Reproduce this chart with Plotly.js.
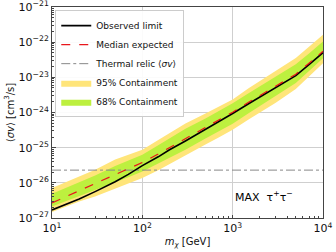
<!DOCTYPE html>
<html><head><meta charset="utf-8">
<script src="https://cdn.plot.ly/plotly-3.0.1.min.js"></script>
<style>html,body{margin:0;padding:0;background:#fff}#c{width:336px;height:252px}</style>
</head><body><div id="c"></div>
<script>
// mass grid (GeV)
const mass = [10, 20, 30, 50, 70, 100, 150, 200, 300, 500, 700, 1000, 1500, 2000, 3000, 5000, 7000, 10000];
// log10 <sigma v> values (cm^3/s)
const observedLog = [-26.77, -26.46, -26.25, -25.97, -25.76, -25.51, -25.26, -25.06, -24.81, -24.48, -24.27, -24.03, -23.75, -23.56, -23.30, -22.95, -22.64, -22.30];
const medianLog   = [-26.57, -26.22, -26.01, -25.76, -25.60, -25.42, -25.18, -25.00, -24.76, -24.43, -24.22, -23.99, -23.71, -23.52, -23.26, -22.91, -22.60, -22.26];
const band95High  = [-26.15, -25.82, -25.63, -25.34, -25.20, -25.06, -24.78, -24.58, -24.31, -24.03, -23.84, -23.63, -23.31, -23.10, -22.81, -22.45, -22.13, -21.79];
const band68High  = [-26.31, -25.98, -25.79, -25.52, -25.36, -25.20, -24.93, -24.73, -24.46, -24.17, -23.97, -23.74, -23.45, -23.25, -22.98, -22.63, -22.32, -21.98];
const band68Low   = [-26.67, -26.38, -26.21, -25.98, -25.84, -25.68, -25.46, -25.30, -25.06, -24.74, -24.54, -24.32, -24.02, -23.82, -23.54, -23.16, -22.82, -22.46];
const band95Low   = [-26.83, -26.53, -26.39, -26.16, -26.02, -25.86, -25.64, -25.46, -25.22, -24.91, -24.71, -24.49, -24.20, -24.00, -23.72, -23.33, -22.98, -22.60];
const thermalRelic = 2.3e-26;
const xRange = [10, 10000];
const xDecades = [1, 2, 3, 4];
const xTickText = ['10<sup>1</sup>', '10<sup>2</sup>', '10<sup>3</sup>', '10<sup>4</sup>'];
const yDecades = [-27, -26, -25, -24, -23, -22, -21];
const yTickText = ['10<sup>−27</sup>', '10<sup>−26</sup>', '10<sup>−25</sup>', '10<sup>−24</sup>', '10<sup>−23</sup>', '10<sup>−22</sup>', '10<sup>−21</sup>'];
const minorDigits = [2, 3, 4, 5, 6, 7, 8, 9];

const p = a => a.map(v => Math.pow(10, v));
const minorVals = decs => {
  const out = [];
  decs.slice(0, -1).forEach(d => minorDigits.forEach(k => out.push(k * Math.pow(10, d))));
  return out;
};

const traces = [
  {x: mass, y: p(band95Low), mode: 'lines', line: {width: 0, color: '#ffe57a'}, showlegend: false, hoverinfo: 'skip'},
  {x: mass, y: p(band95High), mode: 'lines', line: {width: 0, color: '#ffe57a'}, fill: 'tonexty', fillcolor: '#ffe57a', name: '95% Containment', legendrank: 4},
  {x: mass, y: p(band68Low), mode: 'lines', line: {width: 0, color: '#bdf03f'}, showlegend: false, hoverinfo: 'skip'},
  {x: mass, y: p(band68High), mode: 'lines', line: {width: 0, color: '#bdf03f'}, fill: 'tonexty', fillcolor: '#bdf03f', name: '68% Containment', legendrank: 5},
  {x: xRange, y: [thermalRelic, thermalRelic], mode: 'lines', line: {color: '#888', width: 1, dash: 'dashdot'}, name: 'Thermal relic ⟨<i>σv</i>⟩', legendrank: 3},
  {x: mass, y: p(observedLog), mode: 'lines', line: {color: '#000', width: 1.6}, name: 'Observed limit', legendrank: 1},
  {x: mass, y: p(medianLog), mode: 'lines', line: {color: '#e8161b', width: 1.2, dash: 'dash'}, name: 'Median expected', legendrank: 2}
];

const axisCommon = {
  type: 'log', showgrid: true, gridcolor: '#cfcfcf', gridwidth: 1,
  showline: true, linecolor: '#444', linewidth: 1, mirror: true,
  ticks: 'inside', ticklen: 3.5, tickcolor: '#444', tickmode: 'array', ticklabeloverflow: 'allow',
  tickfont: {family: 'DejaVu Sans', size: 11, color: '#111'},
  zeroline: false
};

const layout = {
  width: 336, height: 252,
  margin: {l: 52, r: 13, t: 7, b: 34},
  paper_bgcolor: '#fff', plot_bgcolor: '#fff',
  font: {family: 'DejaVu Sans', size: 10, color: '#111'},
  showlegend: true,
  legend: {x: 0.012, y: 0.985, xanchor: 'left', yanchor: 'top', traceorder: 'normal',
    bgcolor: 'rgba(255,255,255,0.9)', bordercolor: '#ccc', borderwidth: 1,
    font: {family: 'DejaVu Sans', size: 9}, tracegroupgap: 0, itemwidth: 30},
  xaxis: Object.assign({}, axisCommon, {range: [0.9999, 4.0001],
    tickvals: xDecades.map(d => Math.pow(10, d)), ticktext: xTickText,
    minor: {tickmode: 'array', tickvals: minorVals(xDecades), ticks: 'inside', ticklen: 2, tickcolor: '#444', showgrid: false},
    title: {text: '<i>m<sub>χ</sub></i> [GeV]', font: {family: 'DejaVu Sans', size: 10}, standoff: 3}}),
  yaxis: Object.assign({}, axisCommon, {range: [-27.0001, -20.9999],
    tickvals: yDecades.map(d => Math.pow(10, d)), ticktext: yTickText,
    minor: {tickmode: 'array', tickvals: minorVals(yDecades), ticks: 'inside', ticklen: 2, tickcolor: '#444', showgrid: false},
    title: {text: '⟨<i>σv</i>⟩ [cm<sup>3</sup>/s]', font: {family: 'DejaVu Sans', size: 10}, standoff: 2}}),
  annotations: [{x: 3, y: -26.40, xref: 'x', yref: 'y', xanchor: 'left', yanchor: 'middle', showarrow: false,
    text: 'MAX  τ<sup>+</sup>τ<sup>−</sup>', font: {family: 'DejaVu Sans', size: 11, color: '#000'}}]
};

Plotly.newPlot('c', traces, layout, {displayModeBar: false, staticPlot: true});
</script></body></html>
